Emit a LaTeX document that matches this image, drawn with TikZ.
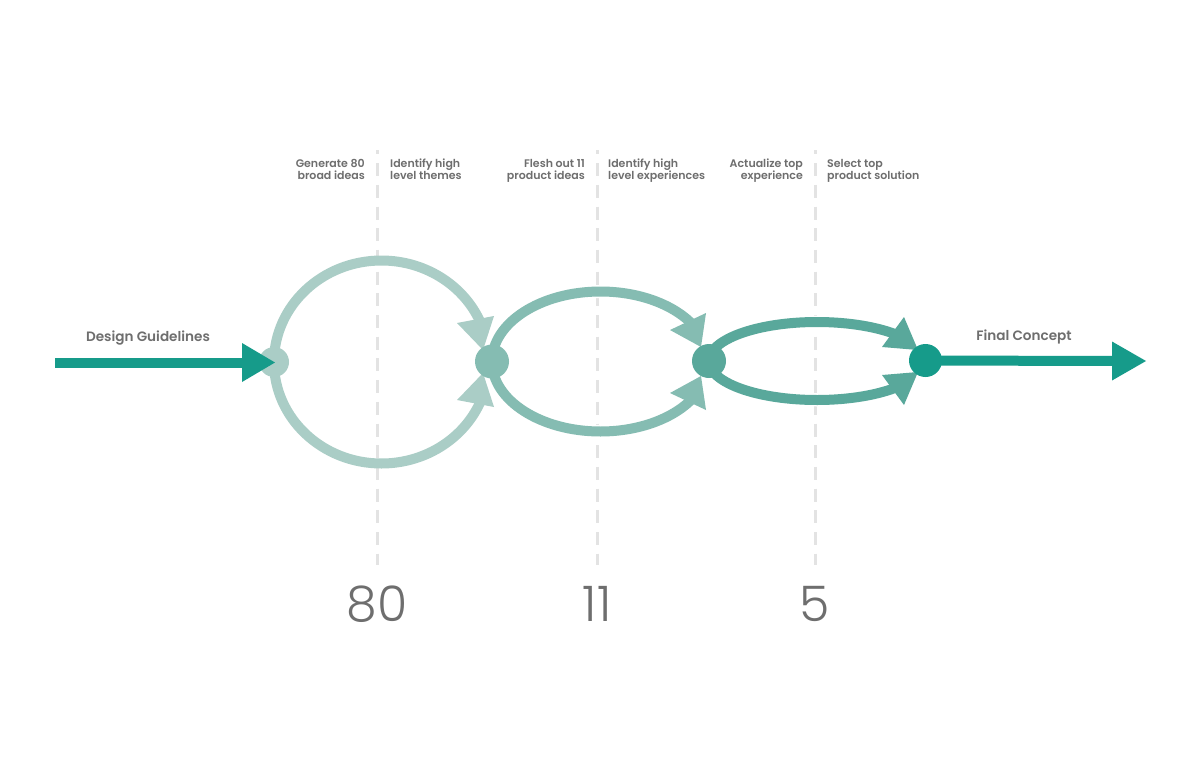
\documentclass[tikz,border=0pt]{standalone}
\usepackage{fontspec}
\IfFontExistsTF{Poppins SemiBold}{\newfontfamily\labfont{Poppins SemiBold}}{\newfontfamily\labfont{Poppins}[FakeBold=1]}
\IfFontExistsTF{Poppins Light}{\newfontfamily\numfont{Poppins Light}}{\newfontfamily\numfont{Poppins}}
\usetikzlibrary{calc}
\pgfdeclarelayer{bg}
\pgfsetlayers{bg,main}
\definecolor{cA}{HTML}{AACDC6}
\definecolor{cB}{HTML}{85BCB2}
\definecolor{cC}{HTML}{59A89B}
\definecolor{cD}{HTML}{169B8A}
\definecolor{txtgray}{HTML}{6E6E6E}
\definecolor{guidegray}{HTML}{E3E3E3}
\begin{document}
\begin{tikzpicture}[x=1pt,y=-1pt,
  hub/.style={circle, inner sep=0pt, draw=none},
  ring/.style={line width=10pt},
  halo/.style={line width=13pt, draw=white},
  guide/.style={line width=3pt, draw=guidegray, dash pattern=on 13pt off 8.7pt, dash phase=8.6pt},
  lab/.style={font=\labfont\fontsize{11}{12.5}\selectfont, text=txtgray, inner sep=0pt},
  big/.style={font=\labfont\fontsize{13.6}{16}\selectfont, text=txtgray, inner sep=0pt, anchor=base},
  num/.style={font=\numfont\fontsize{49}{58}\selectfont, text=txtgray, inner sep=0pt, anchor=base},
]
\useasboundingbox (0,0) rectangle (1199,776);

% hubs
\node[hub, fill=cA, minimum size=30pt] (c1) at (274,362) {};
\node[hub, fill=cB, minimum size=34pt] (c2) at (492,361.5) {};
\node[hub, fill=cC, minimum size=34pt] (c3) at (709,361) {};
\node[hub, fill=cD, minimum size=33pt] (c4) at (925.5,360.5) {};

\begin{pgfonlayer}{bg}
\fill[white] (0,0) rectangle (1199,776);
% guides
\draw[guide] (377,150) -- (377,565);
\draw[guide] (597,150) -- (597,565);
\draw[guide] (815,150) -- (815,565);
% loop 1
\draw[ring, cA] (c1.center) arc[start angle=180, end angle=340, x radius=107.5, y radius=101.5];
\draw[ring, cA] (c1.center) arc[start angle=180, end angle=20, x radius=107.5, y radius=101.5];
\fill[cA] (457,323) -- (494,316) -- (483,350) -- cycle;
\fill[cA] (457,400) -- (494,407) -- (483,373) -- cycle;
% loop 2
\draw[halo] (c2.center) arc[start angle=180, end angle=330, x radius=108.5, y radius=70];
\draw[halo] (c2.center) arc[start angle=180, end angle=30, x radius=108.5, y radius=70];
\draw[ring, cB] (c2.center) arc[start angle=180, end angle=330, x radius=108.5, y radius=70];
\draw[ring, cB] (c2.center) arc[start angle=180, end angle=30, x radius=108.5, y radius=70];
\fill[cB] (670,330) -- (706,313) -- (701,347) -- cycle;
\fill[cB] (670,393) -- (706,410) -- (701,376) -- cycle;
% loop 3
\draw[halo] (c3.center) arc[start angle=180, end angle=320, x radius=108, y radius=39];
\draw[halo] (c3.center) arc[start angle=180, end angle=40, x radius=108, y radius=39];
\draw[ring, cC] (c3.center) arc[start angle=180, end angle=320, x radius=108, y radius=39];
\draw[ring, cC] (c3.center) arc[start angle=180, end angle=40, x radius=108, y radius=39];
\fill[cC] (882,347) -- (904,317) -- (918,350) -- cycle;
\fill[cC] (882,375) -- (904,405) -- (918,372) -- cycle;
\end{pgfonlayer}

% main arrows
\coordinate (dgs) at (55,362.5);
\coordinate (dgb) at (244,362.5);
\draw[ring, cD] (dgs) -- (dgb);
\fill[cD] ($(dgb)+(-2,-19.5)$) -- ($(c1.center)+(1,0.5)$) -- ($(dgb)+(-2,19.5)$) -- cycle;
\coordinate (fcb) at (1114,361);
\coordinate (fct) at (1146,361);
\draw[ring, cD] (c4.center) -- (fcb);
\fill[cD] ($(fcb)+(-2,-19.5)$) -- (fct) -- ($(fcb)+(-2,19.5)$) -- cycle;

% labels
\node[lab, align=right, anchor=base east] (t1) at (365,179.5) {Generate 80\\broad ideas};
\node[lab, align=left, anchor=base west] (t2) at (390,179.5) {Identify high\\level themes};
\node[lab, align=right, anchor=base east] (t3) at (585,179.5) {Flesh out 11\\product ideas};
\node[lab, align=left, anchor=base west] (t4) at (608,179.5) {Identify high\\level experiences};
\node[lab, align=right, anchor=base east] (t5) at (803,179.5) {Actualize top\\experience};
\node[lab, align=left, anchor=base west] (t6) at (827,179.5) {Select top\\product solution};
\node[big] (dg) at (148,341.7) {Design Guidelines};
\node[big] (fc) at (1024,340) {Final Concept};
\node[num] (n80) at (377,621) {80};
\node[num] (n11) at (597,621) {11};
\node[num] (n5) at (815,621) {5};
\end{tikzpicture}
\end{document}
